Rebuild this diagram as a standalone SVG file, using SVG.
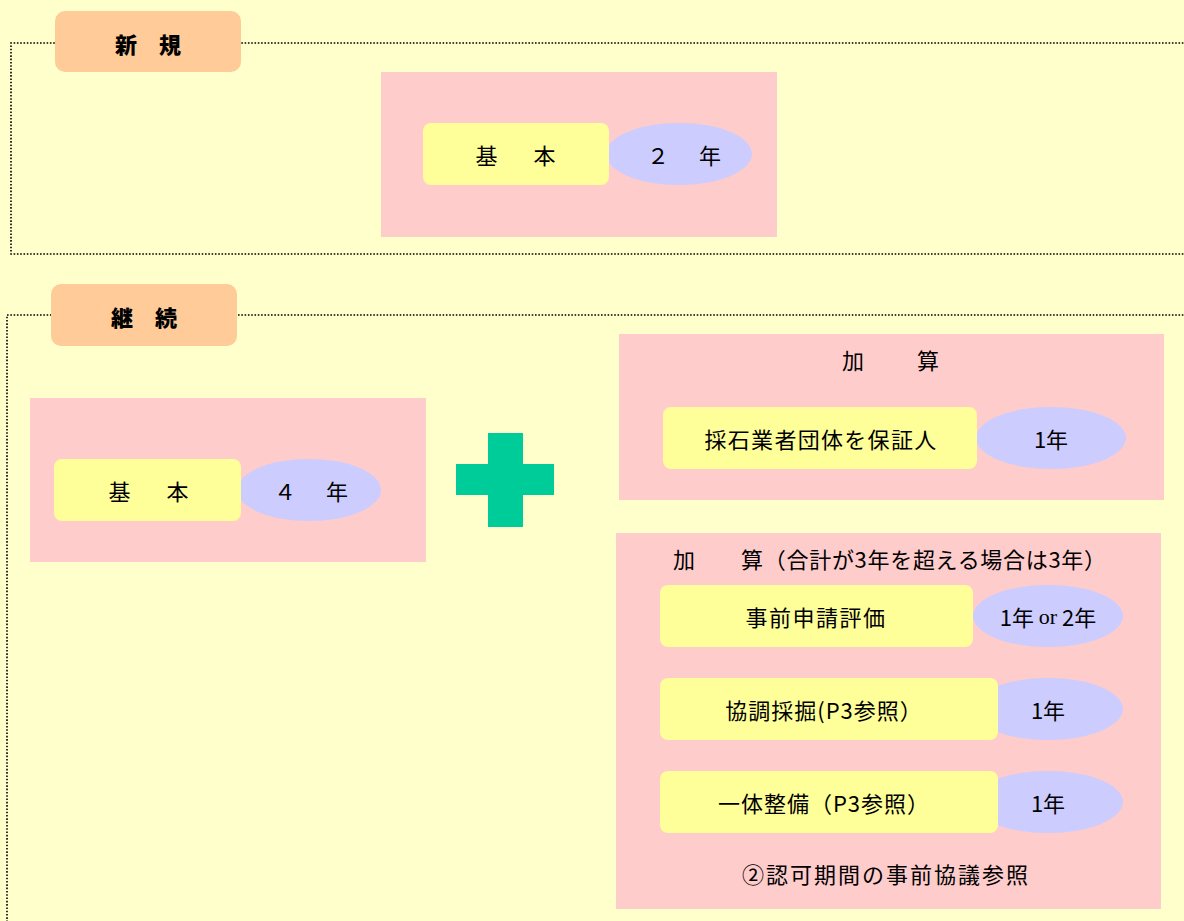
<svg xmlns="http://www.w3.org/2000/svg" width="1184" height="921" viewBox="0 0 1184 921">
<style>
text{font-family:"Noto Sans CJK JP","Liberation Sans",sans-serif;font-size:22px;fill:#000;text-anchor:middle;dominant-baseline:central}
.tab{fill:#FFCC99}
.tabt{font-weight:900;font-size:22px}
.frame{fill:none;stroke:#000;stroke-width:1.6;stroke-dasharray:1.6 1.7}
.panel{fill:#FFCCCC}
.box{fill:#FFFF99}
.ell{fill:#CCCCFF}
.serif{font-family:"Liberation Serif",serif}
</style>
<rect width="1184" height="921" fill="#FFFFCC"/>

<g id="frame-new">
<polyline class="frame" points="1190,43 11,43 11,254 1190,254"/>
</g>
<g id="frame-cont">
<polyline class="frame" points="1190,315 7,315 7,930"/>
</g>

<g id="tab-new">
<rect class="tab" x="55" y="11" width="186" height="61" rx="10"/>
<text class="tabt" x="148" y="43">新　規</text>
</g>
<g id="tab-cont">
<rect class="tab" x="51" y="284" width="186" height="62" rx="10"/>
<text class="tabt" x="144" y="316">継　続</text>
</g>

<g id="panel-new">
<rect class="panel" x="381" y="72" width="396" height="165"/>
<ellipse class="ell" cx="679" cy="154" rx="73" ry="31"/>
<rect class="box" x="423" y="123" width="186" height="62" rx="8"/>
<text x="519" y="154" letter-spacing="7">基　本</text>
<text x="686" y="154" letter-spacing="4">２　年</text>
</g>

<g id="panel-cont-base">
<rect class="panel" x="30" y="398" width="396" height="164"/>
<ellipse class="ell" cx="309" cy="490" rx="72" ry="31"/>
<rect class="box" x="54" y="459" width="187" height="62" rx="8"/>
<text x="152" y="490" letter-spacing="7">基　本</text>
<text x="313" y="490" letter-spacing="4">４　年</text>
</g>

<g id="plus">
<rect x="488" y="433" width="35" height="94" fill="#00CC99"/>
<rect x="456" y="464" width="98" height="31" fill="#00CC99"/>
</g>

<g id="panel-add1">
<rect class="panel" x="619" y="334" width="545" height="166"/>
<text x="892" y="359" letter-spacing="3">加　　算</text>
<ellipse class="ell" cx="1051" cy="438" rx="75" ry="31"/>
<rect class="box" x="663" y="407" width="314" height="62" rx="8"/>
<text x="821" y="438" letter-spacing="1.3">採石業者団体を保証人</text>
<text x="1051" y="438">1年</text>
</g>

<g id="panel-add2">
<rect class="panel" x="616" y="533" width="545" height="376"/>
<text x="673" y="558" style="text-anchor:start" letter-spacing="0.7">加　　算（合計が3年を超える場合は3年）</text>
<rect class="box" x="660" y="585" width="313" height="62" rx="8"/>
<ellipse class="ell" cx="1048" cy="616" rx="75" ry="31"/>
<text x="816" y="616" letter-spacing="1.5">事前申請評価</text>
<text x="1048" y="616">1年 <tspan class="serif">or</tspan> 2年</text>

<ellipse class="ell" cx="1048" cy="709" rx="75" ry="31"/>
<rect class="box" x="660" y="678" width="338" height="62" rx="8"/>
<text x="824" y="709" letter-spacing="1">協調採掘(P3参照）</text>
<text x="1048" y="709">1年</text>

<ellipse class="ell" cx="1048" cy="802" rx="75" ry="31"/>
<rect class="box" x="660" y="771" width="338" height="62" rx="8"/>
<text x="824" y="802" letter-spacing="1">一体整備（P3参照）</text>
<text x="1048" y="802">1年</text>

<text x="886" y="873" letter-spacing="2">②認可期間の事前協議参照</text>
</g>
</svg>
